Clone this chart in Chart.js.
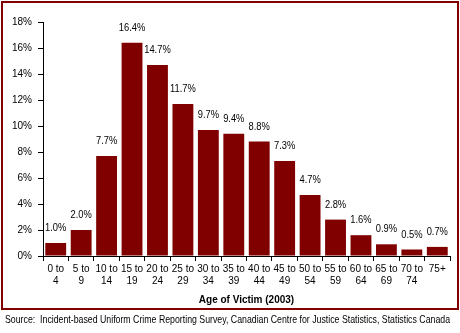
<!DOCTYPE html>
<html>
<head>
<meta charset="utf-8">
<script src="https://cdn.jsdelivr.net/npm/chart.js@4/dist/chart.umd.min.js"></script>
<style>
  html, body { margin: 0; padding: 0; background: #fff; }
  #wrap { width: 460px; height: 333px; }
</style>
</head>
<body>
<div id="wrap"><canvas id="chart" width="460" height="333"></canvas></div>
<script>
const ageGroups = [
  ['0 to', '4'], ['5 to', '9'], ['10 to', '14'], ['15 to', '19'],
  ['20 to', '24'], ['25 to', '29'], ['30 to', '34'], ['35 to', '39'],
  ['40 to', '44'], ['45 to', '49'], ['50 to', '54'], ['55 to', '59'],
  ['60 to', '64'], ['65 to', '69'], ['70 to', '74'], ['75+']
];
const victimPct = [1.0, 2.0, 7.7, 16.4, 14.7, 11.7, 9.7, 9.4, 8.8, 7.3, 4.7, 2.8, 1.6, 0.9, 0.5, 0.7];
const xTitle = 'Age of Victim (2003)';
const sourceNote = 'Source:  Incident-based Uniform Crime Reporting Survey, Canadian Centre for Justice Statistics, Statistics Canada';

const FONT = "Arial, 'Liberation Sans', sans-serif";
const RED = '#800000';

// text squeezed sideways, the original uses a narrow face
function narrowText(c, txt, x, y, sx) {
  c.save();
  c.translate(x, y);
  c.scale(sx, 1);
  c.fillText(txt, 0, 0);
  c.restore();
}

// frame + source line + value labels
const extras = {
  id: 'extras',
  beforeDraw(chart) {
    const c = chart.ctx;
    c.save();
    c.fillStyle = '#fff';
    c.fillRect(0, 0, chart.width, chart.height);
    c.strokeStyle = RED;
    c.lineWidth = 2;
    c.strokeRect(2, 2, 456, 307);
    c.restore();
  },
  afterDraw(chart) {
    const c = chart.ctx;
    c.save();
    c.fillStyle = '#000';
    c.font = '11px ' + FONT;
    c.textAlign = 'center';
    c.textBaseline = 'middle';
    chart.getDatasetMeta(0).data.forEach((bar, i) => {
      narrowText(c, victimPct[i].toFixed(1) + '%', bar.x, bar.y - 15, 0.85);
    });
    c.textAlign = 'left';
    c.font = '11px ' + FONT;
    const w = c.measureText(sourceNote).width;
    narrowText(c, sourceNote, 5, 320, 445 / w);
    c.restore();
  }
};

new Chart(document.getElementById('chart').getContext('2d'), {
  type: 'bar',
  data: {
    labels: ageGroups,
    datasets: [{ data: victimPct, backgroundColor: RED, barPercentage: 0.82, categoryPercentage: 1 }]
  },
  options: {
    responsive: false,
    animation: false,
    events: [],
    layout: { padding: { left: 0, right: 10, top: 22, bottom: 25 } },
    plugins: { legend: { display: false }, tooltip: { enabled: false } },
    scales: {
      y: {
        min: 0, max: 18,
        afterFit: s => { s.width = 43; },
        ticks: { stepSize: 2, color: '#000', padding: 6, font: { family: FONT, size: 10 }, callback: v => v + '%' },
        grid: { drawOnChartArea: false, color: '#000', tickLength: 5 },
        border: { color: '#000' }
      },
      x: {
        afterFit: s => { s.height = 52; },
        ticks: { color: '#000', padding: 2, maxRotation: 0, autoSkip: false, font: { family: FONT, size: 10, lineHeight: 1.2 } },
        grid: { drawOnChartArea: false, color: '#000', tickLength: 5, offset: true },
        border: { color: '#000' },
        title: { display: true, text: xTitle, color: '#000', padding: { top: 0, bottom: 2 }, font: { family: FONT, size: 10, weight: 'bold' } }
      }
    }
  },
  plugins: [extras]
});
</script>
</body>
</html>
